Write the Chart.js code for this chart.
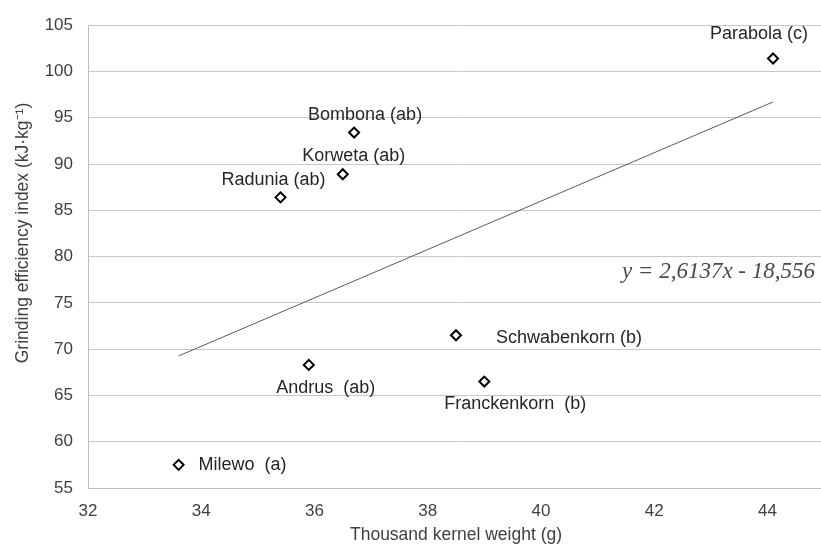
<!DOCTYPE html>
<html>
<head>
<meta charset="utf-8">
<script src="https://cdn.jsdelivr.net/npm/chart.js@4"></script>
<style>
    html, body { margin: 0; padding: 0; background: #fff; overflow: hidden; }
    #wrap { width: 831px; height: 553px; }
</style>
</head>
<body>
<div id="wrap"><canvas id="chart" width="831" height="553"></canvas></div>
<script>
// ==================== DATA ====================

const varieties = ['Parabola (c)', 'Bombona (ab)', 'Korweta (ab)', 'Radunia (ab)',
    'Andrus  (ab)', 'Milewo  (a)', 'Schwabenkorn (b)', 'Franckenkorn  (b)'];
const kernelWeight = [44.1, 36.7, 36.5, 35.4, 35.9, 33.6, 38.5, 39.0];
const grindingIndex = [101.4, 93.4, 88.9, 86.4, 68.3, 57.5, 71.5, 66.5];

// regression as printed on the chart
const slope = 2.6137;
const intercept = -18.556;
const equationText = 'y = 2,6137x - 18,556';

const xTicks = [32, 34, 36, 38, 40, 42, 44];
const yTicks = [55, 60, 65, 70, 75, 80, 85, 90, 95, 100, 105];

const xTitle = 'Thousand kernel weight (g)';
const yTitle = 'Grinding efficiency index (kJ·kg⁻¹)';

// where each label sits relative to its point
const labelPlacement = ['above', 'aboveRight', 'aboveRight', 'aboveLeft',
    'belowRight', 'right', 'farRight', 'belowRight2'];

// ==================== CHART ====================

const xMin = Math.min(...kernelWeight);
const xMax = Math.max(...kernelWeight);
const trendPoints = [
    { x: xMin, y: slope * xMin + intercept },
    { x: xMax, y: slope * xMax + intercept }
];

const points = kernelWeight.map((x, i) => ({ x: x, y: grindingIndex[i] }));

const labelOffsets = {
    above:       { dx: -14, dy: -24, align: 'center' },
    aboveRight:  { dx: 11,  dy: -18, align: 'center' },
    aboveLeft:   { dx: -7,  dy: -17, align: 'center' },
    belowRight:  { dx: 17,  dy: 23,  align: 'center' },
    right:       { dx: 20,  dy: 0,   align: 'left' },
    farRight:    { dx: 40,  dy: 3,   align: 'left' },
    belowRight2: { dx: 31,  dy: 22,  align: 'center' }
};

const textFamily = '"Liberation Sans", Arial, sans-serif';

const pointLabels = {
    id: 'pointLabels',
    afterDatasetsDraw(chart) {
        const ctx = chart.ctx;
        const meta = chart.getDatasetMeta(1);
        ctx.save();
        ctx.font = '18px ' + textFamily;
        ctx.fillStyle = '#262626';
        ctx.textBaseline = 'middle';
        meta.data.forEach((el, i) => {
            const o = labelOffsets[labelPlacement[i]];
            ctx.textAlign = o.align;
            ctx.fillText(varieties[i], el.x + o.dx, el.y + o.dy);
        });

        // regression equation
        ctx.font = 'italic 23px "Liberation Serif", "Times New Roman", serif';
        ctx.fillStyle = '#4a4a4a';
        ctx.textAlign = 'right';
        ctx.fillText(equationText, 815, chart.scales.y.getPixelForValue(78.3));

        // y axis title (sits a bit above the plot centre, as in the original)
        ctx.font = '17.5px ' + textFamily;
        ctx.fillStyle = '#404040';
        ctx.textAlign = 'center';
        ctx.translate(23, 233);
        ctx.rotate(-Math.PI / 2);
        ctx.fillText(yTitle, 0, 0);
        ctx.restore();
    }
};

const tickFont = { family: textFamily, size: 17 };

new Chart(document.getElementById('chart'), {
    type: 'scatter',
    data: {
        datasets: [{
            type: 'line',
            data: trendPoints,
            borderColor: '#5a5a5a',
            borderWidth: 1,
            pointRadius: 0,
            fill: false
        }, {
            data: points,
            pointStyle: 'rectRot',
            pointRadius: 5,
            borderColor: '#000',
            backgroundColor: '#fff',
            borderWidth: 2
        }]
    },
    options: {
        responsive: false,
        animation: false,
        layout: { padding: { top: 24, right: 0, left: 0, bottom: 0 } },
        plugins: { legend: { display: false }, tooltip: { enabled: false } },
        scales: {
            x: {
                type: 'linear',
                min: 32,
                max: 45,
                afterBuildTicks: (scale) => { scale.ticks = xTicks.map(v => ({ value: v })); },
                afterFit: (scale) => { scale.height = 65; },
                ticks: { font: tickFont, color: '#404040', padding: 13, maxRotation: 0 },
                grid: { display: false, drawTicks: false },
                border: { color: '#bdbdbd', width: 1 },
                title: {
                    display: true,
                    text: xTitle,
                    font: { family: textFamily, size: 17.5 },
                    color: '#404040',
                    padding: { top: 0, bottom: 7 }
                }
            },
            y: {
                min: 55,
                max: 105,
                afterBuildTicks: (scale) => { scale.ticks = yTicks.map(v => ({ value: v })); },
                afterFit: (scale) => { scale.width = 88; },
                ticks: { font: tickFont, color: '#404040', padding: 15 },
                grid: { color: '#c8c8c8', drawTicks: false },
                border: { color: '#bdbdbd', width: 1 },
                title: { display: false }
            }
        }
    },
    plugins: [pointLabels]
});
</script>
</body>
</html>
